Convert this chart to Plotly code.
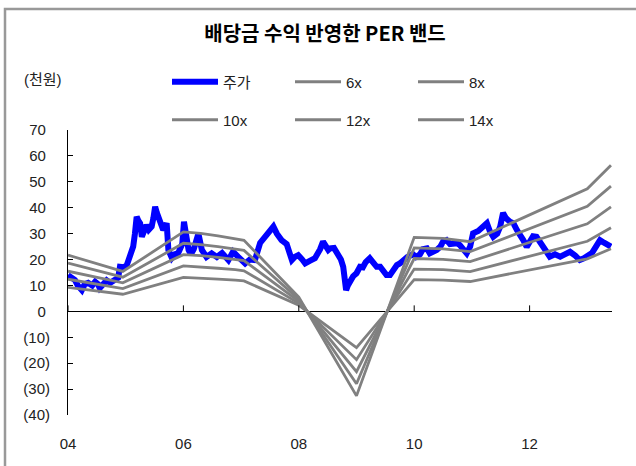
import plotly.graph_objects as go

# Share price (thousand won), fractional year
price_years = [
    2004.00, 2004.07, 2004.12, 2004.17, 2004.24, 2004.29, 2004.35, 2004.42, 2004.47, 2004.52,
    2004.55, 2004.61, 2004.67, 2004.73, 2004.81, 2004.87, 2004.90, 2004.97, 2005.02, 2005.07,
    2005.13, 2005.16, 2005.19, 2005.22, 2005.25, 2005.28, 2005.32, 2005.36, 2005.40, 2005.45,
    2005.48, 2005.51, 2005.54, 2005.59, 2005.65, 2005.71, 2005.74, 2005.80, 2005.85, 2005.91,
    2005.94, 2005.98, 2006.01, 2006.05, 2006.09, 2006.13, 2006.18, 2006.26, 2006.32, 2006.40,
    2006.49, 2006.58, 2006.67, 2006.78, 2006.86, 2006.95, 2007.07, 2007.15, 2007.24, 2007.33,
    2007.41, 2007.48, 2007.56, 2007.62, 2007.70, 2007.79, 2007.88, 2007.93, 2007.99, 2008.06,
    2008.11, 2008.19, 2008.28, 2008.37, 2008.42, 2008.51, 2008.54, 2008.61, 2008.68, 2008.73,
    2008.77, 2008.80, 2008.82, 2008.85, 2008.89, 2008.94, 2009.00, 2009.06, 2009.11, 2009.16,
    2009.23, 2009.29, 2009.35, 2009.41, 2009.46, 2009.52, 2009.58, 2009.63, 2009.70, 2009.75,
    2009.81, 2009.88, 2009.98, 2010.03, 2010.10, 2010.15, 2010.22, 2010.27, 2010.39, 2010.45,
    2010.50, 2010.56, 2010.62, 2010.68, 2010.74, 2010.79, 2010.85, 2010.91, 2010.97, 2011.02,
    2011.11, 2011.20, 2011.26, 2011.31, 2011.37, 2011.44, 2011.49, 2011.54, 2011.59, 2011.66,
    2011.72, 2011.78, 2011.83, 2011.89, 2011.95, 2012.01, 2012.06, 2012.12, 2012.18, 2012.24,
    2012.30, 2012.35, 2012.44, 2012.53, 2012.61, 2012.70, 2012.79, 2012.87, 2012.94, 2013.02,
    2013.08, 2013.15, 2013.22, 2013.29, 2013.36, 2013.41,
]
price_values = [
    14.0, 13.0, 12.1, 10.0, 8.2, 10.5, 11.0, 10.0, 11.4, 10.5,
    9.0, 10.5, 12.0, 11.0, 12.0, 13.0, 17.2, 17.0, 17.9, 21.0,
    25.0, 30.0, 36.5, 35.0, 34.0, 28.8, 31.0, 33.3, 31.5, 32.7,
    36.0, 40.4, 38.0, 35.2, 31.4, 34.0, 23.7, 20.6, 22.0, 22.5,
    23.7, 26.0, 34.6, 27.0, 23.7, 22.0, 24.0, 30.0, 23.7, 21.0,
    22.4, 21.0, 22.5, 19.8, 23.0, 21.0, 18.5, 20.0, 19.8, 26.4,
    28.8, 31.0, 32.7, 30.0, 27.5, 26.0, 19.8, 21.0, 21.7, 20.0,
    18.5, 19.5, 20.5, 24.0, 26.9, 23.7, 24.3, 24.5, 22.4, 20.0,
    17.2, 12.0, 8.2, 10.0, 12.1, 13.5, 14.7, 17.2, 17.0, 19.0,
    20.5, 19.0, 17.2, 17.2, 15.5, 14.0, 14.0, 16.0, 17.9, 18.5,
    19.8, 21.0, 22.0, 21.0, 22.0, 24.0, 24.3, 22.4, 23.7, 24.9,
    26.9, 27.5, 26.0, 26.3, 26.3, 25.6, 24.3, 22.4, 25.0, 30.1,
    31.0, 33.3, 34.0, 31.0, 28.8, 30.0, 32.7, 38.0, 36.0, 34.6,
    34.0, 31.4, 30.0, 27.5, 24.9, 27.0, 29.0, 28.8, 27.0, 24.9,
    22.5, 21.1, 22.0, 21.1, 22.0, 23.0, 21.5, 19.8, 20.5, 21.7,
    22.5, 25.0, 27.5, 26.5, 25.6, 25.0,
]

# Dividend-adjusted EPS (thousand won) used for the PER bands
eps_years = [2004.00, 2004.95, 2006.00, 2006.30, 2006.60, 2006.90, 2007.05,
             2008.00, 2009.00, 2010.00, 2010.50, 2010.97, 2013.00, 2013.41]
eps_values = [1.55, 1.10, 2.19, 2.15, 2.08, 2.01, 1.96,
              0.39, -2.33, 2.04, 2.01, 1.92, 3.38, 4.03]

multiples = [6, 8, 10, 12, 14]

y_ticks = list(range(-40, 71, 10))
y_ticktext = [f"({abs(v)})" if v < 0 else f"{v}\u00a0" for v in y_ticks]
x_ticks = [2004, 2006, 2008, 2010, 2012]
x_ticktext = ["04", "06", "08", "10", "12"]

TEXT = "#222222"
BAND = "#808080"
FONT = "Liberation Sans, Noto Sans CJK KR, sans-serif"

fig = go.Figure()
fig.add_trace(go.Scatter(
    x=price_years, y=price_values, mode="lines", name="주가",
    line=dict(color="#0000ff", width=6), legend="legend",
))
for m in multiples:
    fig.add_trace(go.Scatter(
        x=eps_years, y=[m * e for e in eps_values], mode="lines", name=f"{m}x",
        line=dict(color=BAND, width=2.8),
        legend="legend" if m < 10 else "legend2",
    ))

# small tick marks sitting on the zero line
shapes = [
    dict(type="line", xref="x", yref="y", x0=t, x1=t, ysizemode="pixel",
         yanchor=0, y0=0, y1=6, line=dict(color="black", width=1))
    for t in x_ticks
]
# outer frame
shapes.append(dict(type="rect", xref="paper", yref="paper",
                   x0=(5 - 68) / 544, x1=2, y0=-1, y1=1 + (130 - 9) / 285,
                   line=dict(color="#999999", width=2.5), fillcolor="rgba(0,0,0,0)"))

legend_common = dict(
    orientation="h", xanchor="left", yanchor="middle",
    itemwidth=46, entrywidth=62, entrywidthmode="pixels",
    font=dict(family=FONT, size=15, color=TEXT),
    bgcolor="rgba(0,0,0,0)", borderwidth=0, itemclick=False,
)

fig.update_layout(
    width=636, height=466,
    margin=dict(l=68, r=24, t=130, b=51),
    paper_bgcolor="white", plot_bgcolor="white",
    font=dict(family=FONT, size=15, color=TEXT),
    title=dict(
        text="배당금 수익 반영한 PER 밴드",
        font=dict(family="Noto Sans CJK KR", size=20, color="black", weight=700),
        x=325 / 636, xref="container", xanchor="center",
        y=1 - 34 / 466, yref="container", yanchor="middle",
    ),
    xaxis=dict(
        range=[2004, 2004 + 544 / 57.7], showgrid=False, zeroline=False,
        showline=False, tickvals=x_ticks, ticktext=x_ticktext,
        ticks="", ticklabelstandoff=18, tickfont=dict(size=15),
    ),
    yaxis=dict(
        range=[-40, 70], tickvals=y_ticks, ticktext=y_ticktext,
        showgrid=False, showline=True, linecolor="black", linewidth=1,
        ticks="inside", ticklen=5, tickcolor="black",
        zeroline=True, zerolinecolor="black", zerolinewidth=1,
        ticklabelstandoff=14, tickfont=dict(size=15),
    ),
    legend=dict(x=(167 - 68) / 544, y=1 + (130 - 82) / 285, **legend_common),
    legend2=dict(x=(167 - 68) / 544, y=1 + (130 - 120) / 285, **legend_common),
    annotations=[dict(
        text="(천원)", xref="paper", yref="paper",
        x=(22 - 68) / 544, y=1 + (130 - 80) / 285,
        xanchor="left", yanchor="middle", showarrow=False,
        font=dict(family=FONT, size=15, color=TEXT),
    )],
    shapes=shapes,
    hovermode=False,
    showlegend=True,
)

fig.write_html("out.html", config={"displayModeBar": False})
